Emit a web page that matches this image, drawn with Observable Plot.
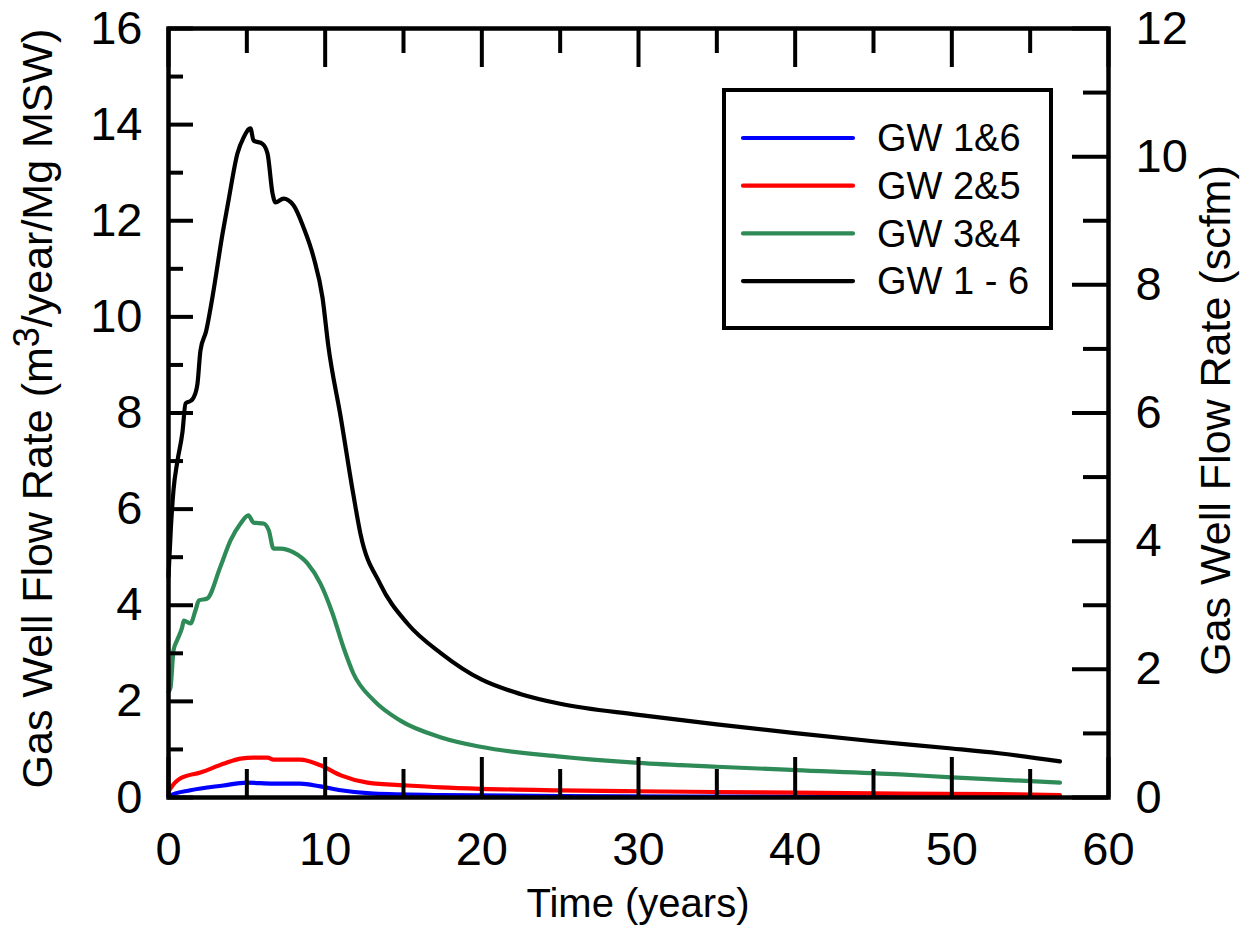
<!DOCTYPE html>
<html><head><meta charset="utf-8">
<script src="https://cdn.jsdelivr.net/npm/d3@7"></script>
<script src="https://cdn.jsdelivr.net/npm/@observablehq/plot@0.6"></script>
<style>
body{margin:0;background:#fff;}
#wrap{position:relative;width:1247px;height:928px;font-family:Arial,"Liberation Sans",sans-serif;}
#legend{position:absolute;left:722px;top:88px;width:331px;height:242px;box-sizing:border-box;border:4px solid #000;background:#fff;}
</style></head><body><div id="wrap"></div>
<script>
// ---- data ----
const seriesNames = ["GW 1&6", "GW 2&5", "GW 3&4", "GW 1 - 6"];
const seriesColors = ["#0000ff", "#ff0000", "#2e8b57", "#000000"];

const gw16Time  = [0, 0.1, 1.4, 3.5, 5.0, 6.7, 8.4, 9.7, 11, 13.1, 17.4, 25, 35, 45, 56.9];
const gw16Rate  = [0.02, 0.04, 0.15, 0.25, 0.31, 0.29, 0.29, 0.23, 0.15, 0.08, 0.05, 0.03, 0.02, 0.015, 0.01];

const gw25Time  = [0, 0.13, 0.77, 2.04, 3.5, 4.6, 5.43, 6.32, 6.7, 8.4, 9.7, 11, 12.7, 15.25, 17.4, 20, 25, 30, 40, 46.7, 53, 56.9];
const gw25Rate  = [0.12, 0.19, 0.4, 0.52, 0.7, 0.81, 0.83, 0.83, 0.79, 0.79, 0.67, 0.46, 0.31, 0.25, 0.21, 0.18, 0.15, 0.13, 0.1, 0.08, 0.07, 0.05];

const gw34Time  = [0, 0.13, 0.32, 0.55, 0.87, 0.98, 1.4, 1.72, 1.94, 2.47, 3.3, 3.96, 4.6, 5.1, 5.43, 6.06, 6.4, 6.7, 7.15, 7.98, 8.87, 9.7, 10.47, 11.17, 11.8, 13.1, 14.8, 17.4, 20, 25, 30, 35, 40, 46.7, 50, 56.9];
const gw34Rate  = [2.2, 2.29, 3.06, 3.27, 3.54, 3.68, 3.62, 3.89, 4.1, 4.14, 4.79, 5.35, 5.7, 5.87, 5.72, 5.7, 5.56, 5.18, 5.18, 5.1, 4.87, 4.45, 3.83, 3.12, 2.58, 2.02, 1.6, 1.25, 1.05, 0.85, 0.72, 0.64, 0.57, 0.48, 0.42, 0.31];

const gwAllTime = [0, 0.15, 0.32, 0.57, 0.89, 1.09, 1.4, 1.6, 1.85, 2.04, 2.4, 2.8, 3.45, 3.83, 4.4, 4.79, 5.23, 5.43, 6.0, 6.32, 6.64, 6.83, 7.34, 7.98, 8.62, 9.26, 9.83, 10.2, 11.0, 11.8, 12.25, 13.5, 15.25, 17.4, 20, 22.5, 25, 30, 35, 40, 45, 50, 53, 56.9];
const gwAllRate = [4.6, 5.6, 6.4, 7.0, 7.6, 8.2, 8.25, 8.32, 8.61, 9.3, 9.7, 10.4, 11.73, 12.42, 13.4, 13.73, 13.92, 13.67, 13.6, 13.4, 12.57, 12.38, 12.46, 12.32, 11.86, 11.24, 10.4, 9.4, 7.9, 6.3, 5.49, 4.45, 3.62, 3.0, 2.45, 2.15, 1.95, 1.72, 1.52, 1.34, 1.17, 1.02, 0.92, 0.75];

const xTickLabels = [0, 10, 20, 30, 40, 50, 60];
const xMinorTicks = [5, 15, 25, 35, 45, 55];
const yTickLabels = [0, 2, 4, 6, 8, 10, 12, 14, 16];
const yMinorTicks = [1, 3, 5, 7, 9, 11, 13, 15];
const rightTickLabels = [0, 2, 4, 6, 8, 10, 12];   // scfm
const rightMinorTicks = [1, 3, 5, 7, 9, 11];
const rightMax = 12, leftMax = 16;

// ---- build ----
const seriesTimes = [gw16Time, gw25Time, gw34Time, gwAllTime];
const seriesRates = [gw16Rate, gw25Rate, gw34Rate, gwAllRate];
const rows = seriesNames.map((name, i) => seriesTimes[i].map((t, j) => ({series: name, t, v: seriesRates[i][j]})));
const toLeft = s => s * leftMax / rightMax;

const W = 1247, H = 928, mL = 168, mR = 139, mT = 28, mB = 131;
const plotW = W - mL - mR, plotH = H - mT - mB;
const tw = 4;

const chart = Plot.plot({
  width: W, height: H,
  marginLeft: mL, marginRight: mR, marginTop: mT, marginBottom: mB,
  style: {fontFamily: 'Arial, "Liberation Sans", sans-serif', fontSize: "47px", color: "#000", background: "#fff", overflow: "visible"},
  x: {domain: [0, 60]},
  y: {domain: [0, leftMax]},
  marks: [
    Plot.axisX(xTickLabels, {anchor: "bottom", tickSize: 0, tickPadding: 34, label: null}),
    Plot.axisY(yTickLabels, {anchor: "left", tickSize: 0, tickPadding: 26, label: null}),
    Plot.axisY(rightTickLabels.map(toLeft), {anchor: "right", tickSize: 0, tickPadding: 27, label: null,
      tickFormat: v => String(Math.round(v * rightMax / leftMax))}),
    ...rows.map((r, i) => Plot.line(r, {x: "t", y: "v", stroke: seriesColors[i], strokeWidth: 4.2, strokeLinejoin: "round", curve: "monotone-x"})),
    // inward ticks
    Plot.tickX(xTickLabels, {x: d => d, insetTop: plotH - 40, strokeWidth: tw}),
    Plot.tickX(xMinorTicks, {x: d => d, insetTop: plotH - 28, strokeWidth: tw}),
    Plot.tickX(xTickLabels, {x: d => d, insetBottom: plotH - 39, strokeWidth: tw}),
    Plot.tickX(xMinorTicks, {x: d => d, insetBottom: plotH - 25, strokeWidth: tw}),
    Plot.tickY(yTickLabels, {y: d => d, insetRight: plotW - 25, strokeWidth: tw}),
    Plot.tickY(yMinorTicks, {y: d => d, insetRight: plotW - 15, strokeWidth: tw}),
    Plot.tickY(rightTickLabels.map(toLeft), {y: d => d, insetLeft: plotW - 36, strokeWidth: tw}),
    Plot.tickY(rightMinorTicks.map(toLeft), {y: d => d, insetLeft: plotW - 25, strokeWidth: tw}),
    Plot.frame({stroke: "#000", strokeWidth: 4.5})
  ]
});

const svg = d3.select(chart);
const ff = 'Arial, "Liberation Sans", sans-serif';
// x title
svg.append("text").attr("x", mL + plotW / 2).attr("y", 917).attr("text-anchor", "middle")
  .attr("font-family", ff).attr("font-size", 40).attr("fill", "#000").text("Time (years)");
// left title with superscript
const lt = svg.append("text").attr("transform", `translate(52,${mT + plotH / 2 - 4}) rotate(-90)`)
  .attr("text-anchor", "middle").attr("font-family", ff).attr("font-size", 43).attr("fill", "#000");
lt.append("tspan").text("Gas Well Flow Rate (m");
lt.append("tspan").attr("dy", -13).attr("font-size", 36).text("3");
lt.append("tspan").attr("dy", 13).text("/year/Mg MSW)");
// right title
svg.append("text").attr("transform", `translate(1230,${mT + plotH / 2 + 8}) rotate(-90)`)
  .attr("text-anchor", "middle").attr("font-family", ff).attr("font-size", 43).attr("fill", "#000")
  .text("Gas Well Flow Rate (scfm)");

const wrap = document.getElementById("wrap");
wrap.appendChild(chart);

// legend (inside plot area, top right)
const legend = document.createElement("div");
legend.id = "legend";
wrap.appendChild(legend);
const lsvg = d3.select(legend).append("svg").attr("width", 323).attr("height", 234);
seriesNames.forEach((name, i) => {
  const cy = 46 + i * 47.7;
  lsvg.append("line").attr("x1", 17).attr("x2", 127).attr("y1", cy).attr("y2", cy)
    .attr("stroke", seriesColors[i]).attr("stroke-width", 4.2).attr("stroke-linecap", "round");
  lsvg.append("text").attr("x", 151).attr("y", cy).attr("dy", "0.35em")
    .attr("font-family", ff).attr("font-size", 38).attr("fill", "#000").text(name);
});
</script></body></html>
